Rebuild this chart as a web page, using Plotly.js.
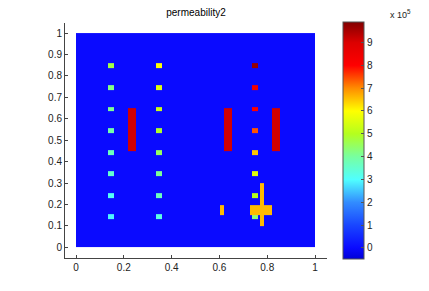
<!DOCTYPE html>
<html>
<head>
<meta charset="utf-8">
<script src="https://cdn.plot.ly/plotly-3.0.1.min.js"></script>
<style>html,body{margin:0;padding:0;background:#fff;}#chart{width:429px;height:291px;}</style>
</head>
<body>
<div id="chart"></div>
<script>
// ---- data: permeability field features ----
const wellColX = [0.148, 0.348, 0.748];
const wellRowY = [0.847, 0.746, 0.645, 0.545, 0.444, 0.343, 0.243, 0.142];
const wellValuesCol1 = [4.7e5, 4.2e5, 4.1e5, 3.9e5, 3.7e5, 3.5e5, 3.1e5, 2.9e5];
const wellValuesCol2 = [6.0e5, 5.6e5, 5.3e5, 4.9e5, 4.5e5, 4.1e5, 3.7e5, 3.3e5];
const wellValuesCol3 = [9.7e5, 8.3e5, 8.1e5, 7.4e5, 6.5e5, 5.6e5, 5.0e5, 4.3e5];
const zoneX0 = [0.216, 0.618, 0.819, 0.601, 0.769, 0.727];
const zoneX1 = [0.252, 0.651, 0.853, 0.618, 0.786, 0.819];
const zoneY0 = [0.449, 0.449, 0.449, 0.149, 0.098, 0.151];
const zoneY1 = [0.650, 0.650, 0.650, 0.196, 0.299, 0.196];
const zoneValues = [9.1e5, 9.1e5, 9.1e5, 6.6e5, 6.6e5, 6.6e5];
const backgroundValue = 0;
const colorbarTicks = [0,1,2,3,4,5,6,7,8,9];

// ---- build field grid ----
const halfW = 0.0126, halfH = 0.0112;
const rects = [];
const wellCols = [wellValuesCol1, wellValuesCol2, wellValuesCol3];
wellColX.forEach((cx, ci) => {
  wellRowY.forEach((cy, ri) => {
    rects.push({x0: cx - halfW, x1: cx + halfW, y0: cy - halfH, y1: cy + halfH, v: wellCols[ci][ri]});
  });
});
zoneValues.forEach((v, i) => rects.push({x0: zoneX0[i], x1: zoneX1[i], y0: zoneY0[i], y1: zoneY1[i], v: v}));

function edges(keyA, keyB) {
  const s = new Set([0, 1]);
  rects.forEach(r => { s.add(+r[keyA].toFixed(4)); s.add(+r[keyB].toFixed(4)); });
  return Array.from(s).sort((a, b) => a - b);
}
const xe = edges('x0', 'x1');
const ye = edges('y0', 'y1');
const z = [];
for (let j = 0; j < ye.length - 1; j++) {
  const row = [];
  const yc = (ye[j] + ye[j + 1]) / 2;
  for (let i = 0; i < xe.length - 1; i++) {
    const xc = (xe[i] + xe[i + 1]) / 2;
    let v = backgroundValue;
    rects.forEach(r => { if (xc > r.x0 && xc < r.x1 && yc > r.y0 && yc < r.y1) v = r.v; });
    row.push(v);
  }
  z.push(row);
}

const cmin = -0.48e5, cmax = 9.9e5;
function t(v) { return (v * 1e5 - cmin) / (cmax - cmin); }
const colorscale = [
  [0, 'rgb(0,0,215)'],
  [t(0), 'rgb(10,10,255)'],
  [t(1), 'rgb(25,70,255)'],
  [t(2), 'rgb(50,140,255)'],
  [t(3), 'rgb(80,255,255)'],
  [t(4), 'rgb(120,255,160)'],
  [t(5), 'rgb(180,255,30)'],
  [t(6), 'rgb(255,255,0)'],
  [t(7), 'rgb(255,140,0)'],
  [t(8), 'rgb(255,0,0)'],
  [t(9), 'rgb(220,0,0)'],
  [1, 'rgb(130,0,0)']
];

const L = 65, R = 327, T = 23, B = 258;
const pw = R - L, ph = B - T;

const trace = {
  type: 'heatmap', x: xe, y: ye, z: z,
  zmin: cmin, zmax: cmax, colorscale: colorscale, zsmooth: false,
  hoverinfo: 'skip',
  colorbar: {
    x: (342.7 - L) / pw, xanchor: 'left', xpad: 0,
    y: (B - 140.35) / ph, yanchor: 'middle', ypad: 0,
    thicknessmode: 'pixels', thickness: 21,
    lenmode: 'pixels', len: 237.3,
    outlinewidth: 1, outlinecolor: '#555',
    tickvals: colorbarTicks.map(v => v * 1e5), ticktext: colorbarTicks.map(String),
    ticks: 'inside', ticklen: 3, tickcolor: '#555',
    tickfont: {family: 'Liberation Sans, Arial, sans-serif', size: 10, color: '#222'}
  }
};

const axisCommon = {
  showgrid: false, zeroline: false, showline: true, linecolor: '#444', linewidth: 1,
  ticks: 'inside', ticklen: 3, tickcolor: '#444', mirror: false,
  tickfont: {family: 'Liberation Sans, Arial, sans-serif', size: 10, color: '#222'}
};

const layout = {
  width: 429, height: 291,
  margin: {l: L, r: 429 - R, t: T, b: 291 - B, pad: 0},
  paper_bgcolor: '#fff', plot_bgcolor: '#fff',
  title: {text: 'permeability2', x: (L + R) / 2 / 429, xanchor: 'center', y: 1 - 12 / 291, yanchor: 'middle',
    font: {family: 'Liberation Sans, Arial, sans-serif', size: 10, color: '#000'}},
  xaxis: Object.assign({}, axisCommon, {range: [-0.046, 1.05], tickvals: [0, 0.2, 0.4, 0.6, 0.8, 1], ticktext: ['0','0.2','0.4','0.6','0.8','1']}),
  yaxis: Object.assign({}, axisCommon, {range: [-0.05, 1.047], tickvals: [0,0.1,0.2,0.3,0.4,0.5,0.6,0.7,0.8,0.9,1], ticktext: ['0','0.1','0.2','0.3','0.4','0.5','0.6','0.7','0.8','0.9','1']}),
  annotations: [{
    xref: 'paper', yref: 'paper', x: (388 - L) / pw, y: (B - 14) / ph, xanchor: 'left', yanchor: 'middle',
    text: 'x 10<sup>5</sup>', showarrow: false,
    font: {family: 'Liberation Sans, Arial, sans-serif', size: 9, color: '#222'}
  }],
  showlegend: false
};

Plotly.newPlot('chart', [trace], layout, {staticPlot: true, displayModeBar: false});
</script>
</body>
</html>
